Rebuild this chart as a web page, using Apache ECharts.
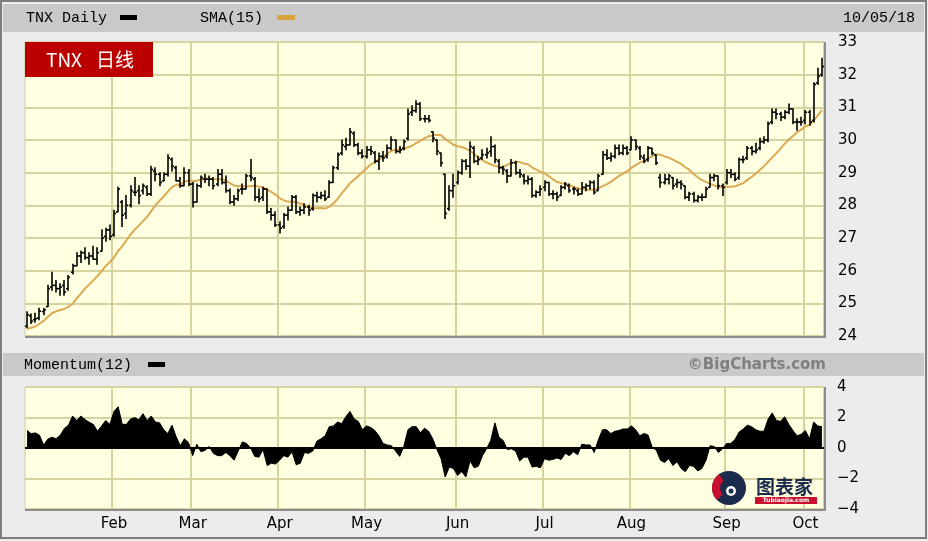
<!DOCTYPE html>
<html>
<head>
<meta charset="utf-8">
<script src="https://cdn.jsdelivr.net/npm/echarts@6/dist/echarts.min.js"></script>
<style>html,body{margin:0;padding:0;background:#ececec}#c{width:928px;height:541px}</style>
</head>
<body>
<div id="c"></div>
<script>
// ---- Data (TNX daily, 01/02/18 - 10/05/18) ----
const dates = [
'01/02','01/03','01/04','01/05','01/08','01/09','01/10','01/11','01/12','01/16','01/17','01/18','01/19','01/22','01/23','01/24','01/25','01/26','01/29','01/30','01/31',
'02/01','02/02','02/05','02/06','02/07','02/08','02/09','02/12','02/13','02/14','02/15','02/16','02/20','02/21','02/22','02/23','02/26','02/27','02/28',
'03/01','03/02','03/05','03/06','03/07','03/08','03/09','03/12','03/13','03/14','03/15','03/16','03/19','03/20','03/21','03/22','03/23','03/26','03/27','03/28','03/29',
'04/02','04/03','04/04','04/05','04/06','04/09','04/10','04/11','04/12','04/13','04/16','04/17','04/18','04/19','04/20','04/23','04/24','04/25','04/26','04/27','04/30',
'05/01','05/02','05/03','05/04','05/07','05/08','05/09','05/10','05/11','05/14','05/15','05/16','05/17','05/18','05/21','05/22','05/23','05/24','05/25','05/29','05/30','05/31',
'06/01','06/04','06/05','06/06','06/07','06/08','06/11','06/12','06/13','06/14','06/15','06/18','06/19','06/20','06/21','06/22','06/25','06/26','06/27','06/28','06/29',
'07/02','07/03','07/05','07/06','07/09','07/10','07/11','07/12','07/13','07/16','07/17','07/18','07/19','07/20','07/23','07/24','07/25','07/26','07/27','07/30','07/31',
'08/01','08/02','08/03','08/06','08/07','08/08','08/09','08/10','08/13','08/14','08/15','08/16','08/17','08/20','08/21','08/22','08/23','08/24','08/27','08/28','08/29','08/30','08/31',
'09/04','09/05','09/06','09/07','09/10','09/11','09/12','09/13','09/14','09/17','09/18','09/19','09/20','09/21','09/24','09/25','09/26','09/27','09/28',
'10/01','10/02','10/03','10/04','10/05'];

const open = [
24.30,24.62,24.50,24.55,24.75,24.90,25.50,25.55,25.45,25.55,25.45,25.95,26.15,26.45,26.55,26.40,26.45,26.35,26.60,27.05,27.25,
27.10,27.80,28.10,27.75,28.00,28.40,28.45,28.45,28.55,28.35,29.05,28.95,28.75,28.95,29.40,29.15,28.75,28.60,29.00,
28.65,28.10,28.60,28.80,28.80,28.80,28.65,28.95,28.70,28.45,28.10,28.20,28.50,28.50,28.90,28.80,28.25,28.25,28.50,27.80,27.70,
27.40,27.35,27.70,27.85,28.25,27.80,27.85,27.95,27.90,28.30,28.25,28.30,28.25,28.70,29.15,29.60,29.80,29.85,30.20,29.85,29.60,
29.50,29.70,29.60,29.35,29.50,29.50,29.75,30.00,29.65,29.75,30.05,30.85,30.90,31.10,30.65,30.65,30.25,30.00,29.60,28.95,27.90,28.45,
28.70,29.00,29.35,29.20,29.75,29.35,29.45,29.55,29.65,29.80,29.35,29.15,29.05,28.90,29.30,29.00,28.90,28.75,28.80,28.30,28.40,
28.55,28.70,28.35,28.35,28.30,28.55,28.60,28.50,28.45,28.35,28.55,28.60,28.70,28.45,28.95,29.55,29.45,29.50,29.75,29.60,29.75,
29.70,30.00,29.75,29.45,29.40,29.75,29.55,28.85,28.70,28.80,28.85,28.65,28.70,28.60,28.25,28.35,28.15,28.25,28.25,28.55,28.85,28.90,28.60,
28.70,29.00,28.95,28.85,29.40,29.45,29.75,29.65,29.75,29.95,30.00,30.55,30.85,30.80,30.70,30.85,30.95,30.55,30.55,
30.60,30.85,30.60,31.75,32.00];

const high = [
24.74,24.67,24.70,24.85,24.85,25.55,25.95,25.70,25.60,25.70,25.85,26.20,26.55,26.60,26.70,26.55,26.75,26.70,27.25,27.30,27.40,
27.85,28.55,28.15,28.30,28.60,28.85,28.60,28.65,28.60,29.20,29.15,29.00,29.00,29.55,29.45,29.20,28.85,29.15,29.10,
28.70,28.65,28.90,28.95,28.90,28.85,29.10,29.10,28.90,28.50,28.30,28.50,28.65,28.95,29.40,28.85,28.50,28.55,28.50,27.90,27.80,
27.50,27.75,27.95,28.30,28.30,27.95,28.05,28.00,28.35,28.40,28.40,28.45,28.75,29.20,29.60,30.00,30.05,30.35,30.25,29.90,29.70,
29.80,29.80,29.65,29.60,29.65,29.85,30.10,30.00,29.80,30.00,30.95,31.05,31.20,31.15,30.75,30.75,30.25,30.00,29.60,28.95,28.60,28.95,
29.05,29.40,29.40,29.95,29.80,29.50,29.70,29.75,30.10,29.85,29.40,29.20,29.10,29.40,29.35,29.10,28.95,28.90,28.85,28.45,28.60,
28.75,28.70,28.45,28.40,28.60,28.70,28.65,28.55,28.50,28.70,28.65,28.75,28.75,28.95,29.65,29.70,29.60,29.85,29.85,29.85,29.80,
30.10,30.00,29.80,29.55,29.80,29.75,29.55,28.95,28.95,28.95,28.85,28.80,28.75,28.60,28.40,28.40,28.30,28.35,28.55,28.95,28.95,28.90,28.65,
29.10,29.10,29.00,29.45,29.50,29.80,29.80,29.90,30.05,30.10,30.55,30.95,30.95,30.85,30.90,31.10,30.95,30.65,30.70,
30.90,30.90,31.75,32.20,32.50];

const low = [
24.25,24.38,24.42,24.50,24.65,24.90,25.40,25.35,25.25,25.25,25.40,25.90,26.15,26.25,26.35,26.20,26.35,26.20,26.60,26.90,26.95,
27.05,27.80,27.35,27.60,27.95,28.30,28.05,28.35,28.30,28.30,28.75,28.60,28.75,28.90,29.05,28.75,28.55,28.60,28.60,
27.95,28.10,28.55,28.70,28.60,28.50,28.60,28.65,28.40,28.05,28.00,28.15,28.35,28.50,28.75,28.15,28.10,28.15,27.75,27.55,27.35,
27.15,27.30,27.55,27.85,27.75,27.70,27.75,27.70,27.85,28.10,28.20,28.15,28.25,28.70,29.10,29.55,29.70,29.85,29.80,29.55,29.45,
29.45,29.55,29.30,29.10,29.35,29.45,29.70,29.60,29.60,29.70,30.00,30.75,30.85,30.60,30.55,30.55,29.95,29.55,29.20,27.60,27.85,28.25,
28.65,28.95,29.10,28.85,29.30,29.25,29.40,29.45,29.50,29.30,29.00,28.95,28.70,28.90,28.95,28.85,28.65,28.65,28.25,28.25,28.30,
28.45,28.30,28.20,28.15,28.30,28.50,28.40,28.35,28.30,28.35,28.45,28.50,28.35,28.45,28.95,29.40,29.35,29.45,29.55,29.55,29.55,
29.70,29.70,29.40,29.30,29.35,29.55,29.25,28.55,28.65,28.65,28.50,28.55,28.50,28.20,28.15,28.10,28.10,28.15,28.25,28.55,28.75,28.50,28.30,
28.65,28.85,28.75,28.80,29.30,29.40,29.55,29.60,29.70,29.90,29.95,30.50,30.65,30.60,30.65,30.80,30.50,30.30,30.45,
30.50,30.45,30.55,31.70,31.95];

const close = [
24.65,24.45,24.53,24.76,24.80,25.45,25.55,25.45,25.50,25.35,25.80,26.15,26.45,26.55,26.40,26.45,26.35,26.55,27.00,27.25,27.05,
27.75,28.50,27.70,28.00,28.45,28.40,28.30,28.60,28.35,29.10,28.95,28.70,28.95,29.45,29.20,28.75,28.60,29.00,28.65,
28.10,28.60,28.85,28.80,28.80,28.60,28.95,28.70,28.45,28.10,28.20,28.45,28.50,28.90,28.85,28.25,28.20,28.50,27.80,27.70,27.40,
27.30,27.70,27.85,28.25,27.80,27.85,27.95,27.85,28.30,28.25,28.30,28.20,28.70,29.15,29.55,29.85,29.85,30.25,29.85,29.60,29.50,
29.70,29.65,29.35,29.50,29.45,29.75,30.00,29.65,29.70,29.95,30.80,30.90,31.10,30.65,30.65,30.60,30.05,29.65,29.30,27.75,28.45,28.60,
29.00,29.35,29.20,29.80,29.35,29.40,29.55,29.60,29.80,29.40,29.15,29.10,28.90,29.30,29.00,28.95,28.75,28.80,28.30,28.40,28.50,
28.70,28.35,28.35,28.25,28.55,28.65,28.45,28.50,28.35,28.55,28.60,28.70,28.40,28.90,29.55,29.45,29.50,29.75,29.60,29.75,29.60,
30.00,29.80,29.50,29.35,29.75,29.60,29.30,28.70,28.80,28.90,28.60,28.70,28.65,28.25,28.35,28.15,28.25,28.25,28.50,28.85,28.90,28.60,28.55,
29.00,28.95,28.80,29.40,29.40,29.75,29.65,29.70,29.95,30.00,30.50,30.85,30.80,30.70,30.85,30.95,30.55,30.55,30.55,
30.85,30.55,31.70,31.95,32.25];

// closes of the 14 sessions before the window (12/11/17 - 12/29/17), needed by SMA(15) / Momentum(12)
const priorCloses = [23.86,24.00,23.50,23.51,23.54,23.92,24.61,24.87,24.84,24.84,24.67,24.07,24.31,24.05];

const monthLabels = ['Jan','Feb','Mar','Apr','May','Jun','Jul','Aug','Sep','Oct','Nov','Dec'];
const priceTicks = {min:24, max:33, step:1};
const momTicks = {min:-4, max:4, step:2};
const smaPeriod = 15, momPeriod = 12;

// ---- Derived indicator series ----
const allCloses = priorCloses.concat(close);
const off = priorCloses.length;
const sma = close.map((c, i) => {
  const k = i + off;
  let s = 0;
  for (let j = k - smaPeriod + 1; j <= k; j++) s += allCloses[j];
  return +(s / smaPeriod).toFixed(3);
});
const momentum = close.map((c, i) => +(c - allCloses[i + off - momPeriod]).toFixed(3));
const isMonthStart = dates.map((d, i) => i > 0 && d.slice(0, 2) !== dates[i - 1].slice(0, 2));
const ohlc = dates.map((d, i) => [i, open[i], high[i], low[i], close[i]]);

const gridColor = '#d6d3a0';
const labelFont = 'DejaVu Sans';
const monoFont = 'Liberation Mono';

const chart = echarts.init(document.getElementById('c'), null, {renderer: 'canvas'});
const option = {
  animation: false,
  backgroundColor: '#ececec',
  grid: [
    {left: 25, top: 42, width: 799, height: 294, show: true, backgroundColor: '#ffffe1', borderColor: '#cfcca6', borderWidth: 1},
    {left: 25, top: 387, width: 799, height: 122, show: true, backgroundColor: '#ffffe1', borderColor: '#cfcca6', borderWidth: 1}
  ],
  xAxis: [
    {type: 'category', gridIndex: 0, data: dates, boundaryGap: true,
     axisLine: {show: false}, axisTick: {show: false}, axisLabel: {show: false},
     splitLine: {show: true, interval: (i) => isMonthStart[i], lineStyle: {color: gridColor, width: 2}}},
    {type: 'category', gridIndex: 1, data: dates, boundaryGap: true,
     axisLine: {show: false}, axisTick: {show: false},
     axisLabel: {show: true, interval: (i) => isMonthStart[i], margin: 8, fontSize: 15, color: '#000', fontFamily: labelFont,
                 formatter: (v) => monthLabels[parseInt(v.slice(0, 2), 10) - 1]},
     splitLine: {show: true, interval: (i) => isMonthStart[i], lineStyle: {color: gridColor, width: 2}}}
  ],
  yAxis: [
    {type: 'value', gridIndex: 0, position: 'right', min: priceTicks.min, max: priceTicks.max, interval: priceTicks.step,
     axisLine: {show: false}, axisTick: {show: false},
     axisLabel: {margin: 14, fontSize: 15, color: '#000', fontFamily: labelFont},
     splitLine: {show: true, lineStyle: {color: gridColor, width: 2}}},
    {type: 'value', gridIndex: 1, position: 'right', min: momTicks.min, max: momTicks.max, interval: momTicks.step,
     axisLine: {show: false}, axisTick: {show: false},
     axisLabel: {margin: 13, fontSize: 15, color: '#000', fontFamily: labelFont,
                 formatter: (v) => v < 0 ? '\u2212' + Math.abs(v) : String(v)},
     splitLine: {show: true, lineStyle: {color: gridColor, width: 2}}}
  ],
  series: [
    {type: 'line', name: 'SMA(15)', xAxisIndex: 0, yAxisIndex: 0, data: sma, showSymbol: false, silent: true,
     lineStyle: {color: '#dca954', width: 2}, z: 2},
    {type: 'custom', name: 'TNX', xAxisIndex: 0, yAxisIndex: 0, data: ohlc, z: 3, silent: true,
     encode: {x: 0, y: [1, 2, 3, 4]},
     renderItem: function (params, api) {
       const i = api.value(0);
       const pO = api.coord([i, api.value(1)]);
       const pH = api.coord([i, api.value(2)]);
       const pL = api.coord([i, api.value(3)]);
       const pC = api.coord([i, api.value(4)]);
       const bw = api.size([1, 0])[0];
       const x = Math.round(pH[0]);
       const t = Math.max(1.5, bw * 0.5);
       const st = {stroke: '#000', lineWidth: 1.6};
       return {type: 'group', children: [
         {type: 'line', shape: {x1: x, y1: pH[1] - 0.5, x2: x, y2: pL[1] + 0.5}, style: st},
         {type: 'line', shape: {x1: x - t, y1: pO[1], x2: x, y2: pO[1]}, style: st},
         {type: 'line', shape: {x1: x, y1: pC[1], x2: x + t, y2: pC[1]}, style: st}
       ]};
     }},
    {type: 'line', name: 'Momentum(12)', xAxisIndex: 1, yAxisIndex: 1, data: momentum, showSymbol: false, silent: true,
     lineStyle: {color: '#000', width: 1}, areaStyle: {color: '#000', opacity: 1}, z: 3,
     markLine: {silent: true, symbol: 'none', label: {show: false}, animation: false,
                lineStyle: {color: '#000', width: 2, type: 'solid'}, data: [{yAxis: 0}]}}
  ],
  graphic: [
    // outer frame
    {type: 'rect', z: 0, shape: {x: 1, y: 1, width: 925, height: 537}, style: {fill: 'none', stroke: '#7d7d7d', lineWidth: 2}},
    // header bars
    {type: 'rect', z: 1, shape: {x: 3, y: 4, width: 921, height: 28}, style: {fill: '#c9c9c9'}},
    {type: 'rect', z: 1, shape: {x: 3, y: 353, width: 921, height: 23}, style: {fill: '#c9c9c9'}},
    {type: 'text', z: 2, style: {x: 26, y: 18, text: 'TNX Daily', fill: '#000', font: '15px ' + monoFont, verticalAlign: 'middle'}},
    {type: 'rect', z: 2, shape: {x: 120, y: 15, width: 17, height: 5}, style: {fill: '#000'}},
    {type: 'text', z: 2, style: {x: 200, y: 18, text: 'SMA(15)', fill: '#000', font: '15px ' + monoFont, verticalAlign: 'middle'}},
    {type: 'rect', z: 2, shape: {x: 277, y: 15, width: 18, height: 5}, style: {fill: '#d9a33c'}},
    {type: 'text', z: 2, style: {x: 915, y: 18, text: '10/05/18', fill: '#000', font: '15px ' + monoFont, align: 'right', verticalAlign: 'middle'}},
    {type: 'text', z: 2, style: {x: 24, y: 365, text: 'Momentum(12)', fill: '#000', font: '15px ' + monoFont, verticalAlign: 'middle'}},
    {type: 'rect', z: 2, shape: {x: 148, y: 362, width: 17, height: 5}, style: {fill: '#000'}},
    {type: 'text', z: 2, style: {x: 826, y: 365, text: '\u00a9BigCharts.com', fill: '#7f7f7f', font: 'bold 15px ' + labelFont, align: 'right', verticalAlign: 'middle'}},
    // plot shadows (right & bottom edges)
    {type: 'line', z: 50, shape: {x1: 825, y1: 42, x2: 825, y2: 338}, style: {stroke: '#8c8c8c', lineWidth: 2}},
    {type: 'line', z: 50, shape: {x1: 25, y1: 337, x2: 826, y2: 337}, style: {stroke: '#8c8c8c', lineWidth: 2}},
    {type: 'line', z: 50, shape: {x1: 825, y1: 387, x2: 825, y2: 511}, style: {stroke: '#8c8c8c', lineWidth: 2}},
    {type: 'line', z: 50, shape: {x1: 25, y1: 510, x2: 826, y2: 510}, style: {stroke: '#8c8c8c', lineWidth: 2}},
    // red title tag
    {type: 'rect', z: 60, shape: {x: 25, y: 42, width: 128, height: 35}, style: {fill: '#bb0000'}},
    {type: 'text', z: 61, style: {x: 46, y: 60, text: 'TNX', fill: '#fff', font: '19px "Noto Sans CJK SC", "Noto Sans", sans-serif', verticalAlign: 'middle'}},
    {type: 'text', z: 61, style: {x: 96, y: 60, text: '日线', fill: '#fff', font: '19px "Noto Sans CJK SC", sans-serif', verticalAlign: 'middle'}},
    // watermark
    {type: 'circle', z: 60, shape: {cx: 729, cy: 488, r: 17}, style: {fill: '#1b2b4b'}},
    {type: 'sector', z: 61, shape: {cx: 729, cy: 488, r: 17, r0: 9, startAngle: Math.PI * 0.75, endAngle: Math.PI * 1.3}, style: {fill: '#c8102e'}},
    {type: 'circle', z: 62, shape: {cx: 731, cy: 491, r: 5}, style: {fill: '#ffffff'}},
    {type: 'circle', z: 63, shape: {cx: 731, cy: 491, r: 2.5}, style: {fill: '#1b2b4b'}},
    {type: 'text', z: 61, style: {x: 756, y: 487, text: '图表家', fill: '#1b2b4b', font: 'bold 19px "Noto Sans CJK SC", sans-serif', verticalAlign: 'middle'}},
    {type: 'rect', z: 61, shape: {x: 755, y: 497, width: 62, height: 7}, style: {fill: '#c8102e'}},
    {type: 'text', z: 62, style: {x: 786, y: 500.5, text: 'Tubiaojia.com', fill: '#fff', font: 'bold 6px ' + labelFont, align: 'center', verticalAlign: 'middle'}}
  ]
};
chart.setOption(option);
</script>
</body>
</html>
